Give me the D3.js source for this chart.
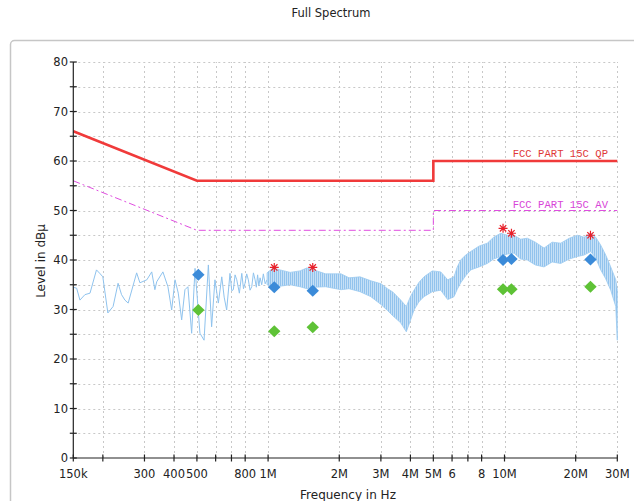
<!DOCTYPE html>
<html>
<head>
<meta charset="utf-8">
<script src="https://cdn.jsdelivr.net/npm/d3@7"></script>
<style>
  body { margin: 0; background: #fff; }
  svg { display: block; font-family: "DejaVu Sans", sans-serif; }
</style>
</head>
<body>
<svg id="chart"></svg>
<script>
// frequencies in MHz, levels in dBuV
const lowFreq = [0.150, 0.155, 0.160, 0.168, 0.1765, 0.188, 0.195, 0.200, 0.210, 0.221, 0.232, 0.240, 0.248, 0.256,
  0.278, 0.287, 0.307, 0.322, 0.332, 0.338, 0.359, 0.377, 0.391, 0.404, 0.417, 0.431, 0.445, 0.458,
  0.475, 0.491, 0.515, 0.536, 0.559, 0.577, 0.596, 0.616, 0.637, 0.652, 0.668, 0.690, 0.702, 0.713, 0.725,
  0.737, 0.756, 0.774, 0.787, 0.799, 0.812, 0.825, 0.839, 0.853, 0.867, 0.881, 0.892, 0.903, 0.914,
  0.925, 0.940, 0.955, 0.972, 0.990];
const lowLevel = [34.5, 34.3, 31.9, 33.0, 33.3, 38.0, 37.2, 36.6, 29.3, 30.6, 35.3, 33.0, 31.9, 31.3,
  37.4, 35.4, 36.0, 37.6, 34.0, 35.6, 37.6, 34.6, 29.9, 36.0, 33.3, 27.9, 34.0, 34.6,
  25.2, 38.3, 25.2, 23.8, 39.0, 26.5, 36.0, 31.3, 36.6, 32.5, 29.9, 37.3, 33.8, 34.0, 37.0,
  36.0, 33.3, 37.3, 34.2, 35.3, 37.2, 36.0, 33.9, 34.6, 37.4, 36.0, 34.5, 37.0, 34.8,
  36.4, 35.0, 37.2, 35.2, 36.0];

const bandFreq = [0.99, 1.05, 1.123, 1.24, 1.365, 1.46, 1.564, 1.75, 2.035, 2.2, 2.448, 2.72, 3.004, 3.2, 3.377,
  3.639, 3.843, 4.0, 4.143, 4.35, 4.566, 4.95, 5.374, 5.75, 6.115, 6.3, 6.528, 6.85, 7.196, 7.8, 8.459,
  9.0, 9.640, 10.3, 10.97, 11.7, 12.49, 13.5, 14.70, 15.9, 17.29, 18.8, 20.33, 21.7, 23.17, 24.3,
  25.53, 26.8, 28.14, 29.55, 30];
const bandTop = [37.4, 38.4, 38.0, 37.5, 37.8, 38.4, 38.0, 37.2, 37.2, 36.4, 36.6, 35.8, 35.2, 34.2, 33.5,
  31.9, 30.6, 32.6, 33.9, 35.5, 36.6, 37.8, 37.6, 36.0, 36.6, 38.5, 40.0, 41.0, 41.7, 42.8, 43.4,
  44.6, 45.4, 45.0, 45.0, 44.2, 44.4, 43.6, 42.4, 43.6, 43.4, 44.4, 45.0, 44.6, 45.4, 44.6,
  43.0, 41.0, 38.6, 36.0, 33.9];
const bandBot = [35.0, 34.6, 34.7, 35.0, 34.6, 34.2, 34.5, 34.6, 34.0, 34.2, 33.6, 32.6, 31.0, 29.8, 28.7,
  27.3, 25.5, 27.8, 29.9, 31.6, 32.6, 33.6, 33.9, 32.0, 32.6, 34.0, 35.4, 36.8, 38.0, 38.6, 39.3,
  40.2, 40.7, 41.2, 41.4, 40.2, 40.0, 39.0, 38.6, 39.6, 39.3, 40.2, 40.7, 41.0, 41.7, 40.4,
  38.0, 36.2, 33.9, 30.6, 23.8];

const limitFreq = [0.15, 0.5, 5, 5, 30];
const qpLimit = [66, 56, 56, 60, 60];
const avLimit = [56, 46, 46, 50, 50];

const markFreq = [0.507, 1.062, 1.545, 9.86, 10.7, 23.1];
const qpLevel = [37.0, 34.5, 33.8, 40.0, 40.2, 40.1];
const avLevel = [29.9, 25.6, 26.4, 34.1, 34.1, 34.6];
const peakFreq = [1.062, 1.545, 9.86, 10.7, 23.1];
const peakLevel = [38.5, 38.5, 46.4, 45.4, 45.0];

const xTicks = [0.15, 0.2, 0.3, 0.4, 0.5, 0.6, 0.7, 0.8, 1, 2, 3, 4, 5, 6, 7, 8, 10, 20, 30];
const xLabelVals = [0.15, 0.3, 0.4, 0.5, 0.8, 1, 2, 3, 4, 5, 6, 8, 10, 20, 30];
const xLabelText = ["150k", "300", "400", "500", "800", "1M", "2M", "3M", "4M", "5M", "6", "8", "10M", "20M", "30M"];
const yTicks = d3.range(0, 81, 5);
const yLabels = d3.range(0, 81, 10);

const width = 634, height = 501;
const svg = d3.select("#chart").attr("width", width).attr("height", height);

// panel frame
svg.append("rect")
  .attr("x", 10.5).attr("y", 40.5).attr("width", 700).attr("height", 600).attr("rx", 4)
  .attr("fill", "#fff").attr("stroke", "#c6c6c6").attr("stroke-width", 1.5);

svg.append("text")
  .attr("x", 331).attr("y", 17).attr("text-anchor", "middle")
  .attr("font-size", 11.5).attr("fill", "#222").text("Full Spectrum");

const x = d3.scaleLog().domain([0.15, 30]).range([73.3, 617.3]);
const y = d3.scaleLinear().domain([0, 80]).range([458, 62]);

// grid
const grid = svg.append("g").attr("stroke", "#c8c8c8").attr("stroke-width", 1).attr("stroke-dasharray", "2,3");
grid.selectAll(".vg").data(xTicks.slice(1)).enter().append("line")
  .attr("x1", d => Math.round(x(d)) + 0.5).attr("x2", d => Math.round(x(d)) + 0.5)
  .attr("y1", y(0)).attr("y2", y(80));
grid.selectAll(".hg").data(yTicks.slice(1)).enter().append("line")
  .attr("x1", x(0.15)).attr("x2", x(30))
  .attr("y1", d => Math.round(y(d)) + 0.5).attr("y2", d => Math.round(y(d)) + 0.5);

// hatched fill for the dense part of the trace
const defs = svg.append("defs");
const pat = defs.append("pattern").attr("id", "hatch").attr("patternUnits", "userSpaceOnUse")
  .attr("width", 2).attr("height", 4);
pat.append("rect").attr("width", 2).attr("height", 4).attr("fill", "#c6e0f6");
pat.append("rect").attr("width", 1).attr("height", 4).attr("fill", "#92c3ed");

const lowData = lowFreq.map((f, i) => [f, lowLevel[i]]);
svg.append("path")
  .datum(lowData)
  .attr("d", d3.line().x(d => x(d[0])).y(d => y(d[1])))
  .attr("fill", "none").attr("stroke", "#8fc3ee").attr("stroke-width", 1);

const bandData = bandFreq.map((f, i) => [f, bandTop[i], bandBot[i]]);
svg.append("path")
  .datum(bandData)
  .attr("d", d3.area().x(d => x(d[0])).y0(d => y(d[2])).y1(d => y(d[1])))
  .attr("fill", "url(#hatch)").attr("stroke", "#9ccaf0").attr("stroke-width", 0.8);

// limit lines
const limLine = d3.line().x(d => x(d[0])).y(d => y(d[1]));
svg.append("path")
  .datum(limitFreq.map((f, i) => [f, avLimit[i]]))
  .attr("d", limLine).attr("fill", "none")
  .attr("stroke", "#e04ee0").attr("stroke-width", 1).attr("stroke-dasharray", "7,3,2,3");
svg.append("path")
  .datum(limitFreq.map((f, i) => [f, qpLimit[i]]))
  .attr("d", limLine).attr("fill", "none")
  .attr("stroke", "#f03a3a").attr("stroke-width", 2.6);

svg.append("text").attr("x", 608).attr("y", 157).attr("text-anchor", "end")
  .attr("font-family", "Liberation Mono, monospace").attr("font-size", 10.6)
  .attr("fill", "#e03838").text("FCC PART 15C QP");
svg.append("text").attr("x", 608).attr("y", 208).attr("text-anchor", "end")
  .attr("font-family", "Liberation Mono, monospace").attr("font-size", 10.6)
  .attr("fill", "#d846d8").text("FCC PART 15C AV");

// axes
const ax = svg.append("g").attr("stroke", "#222").attr("stroke-width", 1.2);
ax.append("line").attr("x1", x(0.15)).attr("x2", x(0.15)).attr("y1", y(0)).attr("y2", y(80));
ax.append("line").attr("x1", x(0.15)).attr("x2", x(30)).attr("y1", y(0)).attr("y2", y(0));
ax.selectAll(".yt").data(yTicks).enter().append("line")
  .attr("x1", x(0.15) - 3.5).attr("x2", x(0.15) + 3.5)
  .attr("y1", d => y(d)).attr("y2", d => y(d));
ax.selectAll(".xt").data(xTicks).enter().append("line")
  .attr("x1", d => x(d)).attr("x2", d => x(d))
  .attr("y1", y(0) - 3.5).attr("y2", y(0) + 3.5);

svg.selectAll(".yl").data(yLabels).enter().append("text")
  .attr("x", 68).attr("y", d => y(d) + 4).attr("text-anchor", "end")
  .attr("font-size", 11.5).attr("fill", "#222").text(d => d);
svg.selectAll(".xl").data(xLabelVals).enter().append("text")
  .attr("x", d => x(d)).attr("y", 478).attr("text-anchor", "middle")
  .attr("font-size", 11.5).attr("fill", "#222").text((d, i) => xLabelText[i]);

svg.append("text").attr("x", 348).attr("y", 499).attr("text-anchor", "middle")
  .attr("font-size", 12).attr("fill", "#222").text("Frequency in Hz");
svg.append("text").attr("transform", "translate(45,261) rotate(-90)").attr("text-anchor", "middle")
  .attr("font-size", 12).attr("fill", "#222").text("Level in dBµ");

// markers
const diamond = "M0,-6L6.2,0L0,6L-6.2,0Z";
svg.selectAll(".av").data(markFreq).enter().append("path")
  .attr("d", diamond).attr("fill", "#5ec236")
  .attr("transform", (d, i) => `translate(${x(d)},${y(avLevel[i])})`);
svg.selectAll(".qp").data(markFreq).enter().append("path")
  .attr("d", diamond).attr("fill", "#3b8bd9")
  .attr("transform", (d, i) => `translate(${x(d)},${y(qpLevel[i])})`);
const star = "M-4.5,0L4.5,0M0,-4.5L0,4.5M-3.2,-3.2L3.2,3.2M-3.2,3.2L3.2,-3.2";
svg.selectAll(".pk").data(peakFreq).enter().append("path")
  .attr("d", star).attr("fill", "none").attr("stroke", "#e8202a").attr("stroke-width", 1.2)
  .attr("transform", (d, i) => `translate(${x(d)},${y(peakLevel[i])})`);
</script>
</body>
</html>
